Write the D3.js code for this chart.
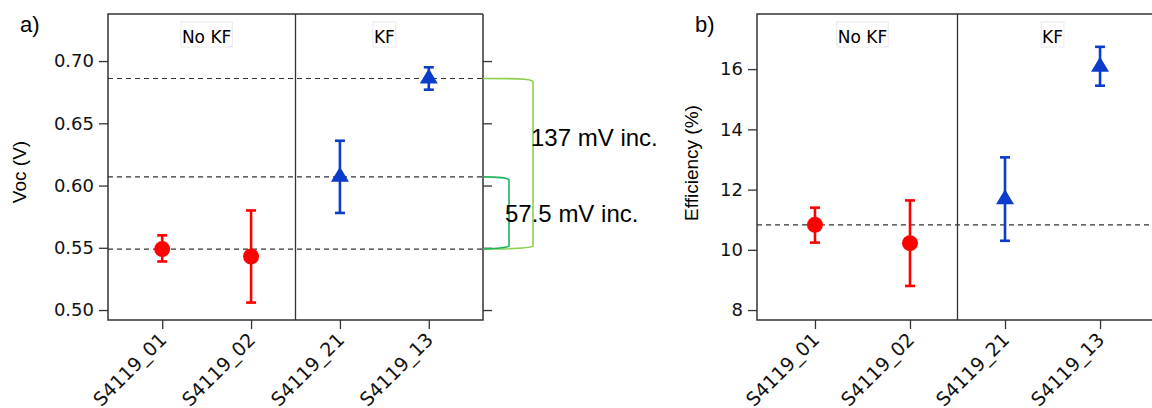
<!DOCTYPE html>
<html>
<head>
<meta charset="utf-8">
<script src="https://cdn.jsdelivr.net/npm/d3@7"></script>
<style>
  body { margin: 0; background: #fff; }
  svg { display: block; }
  .tick text { font-family: "DejaVu Sans", sans-serif; font-size: 18px; fill: #111; }
  .xlab .tick text { font-size: 19px; }
  .domain { display: none; }
  .tick line { stroke: #333; stroke-width: 1.3; }
</style>
</head>
<body>
<svg id="chart" width="1152" height="408"></svg>
<script>
// samples and groups
const samples = ['S4119_01', 'S4119_02', 'S4119_21', 'S4119_13'];
const groupNames = ['No KF', 'KF'];
const sampleGroup = [0, 0, 1, 1];

// Voc (V) with error range
const vocMean = [0.549, 0.543, 0.607, 0.686];
const vocLow = [0.539, 0.506, 0.578, 0.677];
const vocHigh = [0.560, 0.580, 0.636, 0.695];
const vocRefs = [0.686, 0.607, 0.549];
const vocTicks = [0.50, 0.55, 0.60, 0.65, 0.70];

// Efficiency (%) with error range
const effMean = [10.83, 10.22, 11.68, 16.08];
const effLow = [10.24, 8.80, 10.30, 15.45];
const effHigh = [11.40, 11.64, 13.07, 16.74];
const effRefs = [10.83];
const effTicks = [8, 10, 12, 14, 16];

// increase annotations (from, to, label)
const incFrom = [0.686, 0.607];
const incTo = [0.549, 0.549];
const incLabels = ['137 mV inc.', '57.5 mV inc.'];

const groupColors = ['#ff0000', '#0b3ccc'];

const svg = d3.select('#chart');

function drawPanel(opt) {
    let g = svg.append('g');
    let x = d3.scaleLinear().domain([-0.61, 3.61]).range([opt.left, opt.right]);
    let y = d3.scaleLinear().domain(opt.yDomain).range([320, 14]);

    // axes
    g.append('g')
        .attr('transform', 'translate(' + opt.left + ',0)')
        .call(d3.axisLeft(y).tickValues(opt.ticks).tickFormat(opt.fmt).tickSize(9).tickPadding(5));
    if (opt.rightAxis) {
        g.append('g')
            .attr('transform', 'translate(' + opt.right + ',0)')
            .call(d3.axisRight(y).tickValues(opt.ticks).tickFormat('').tickSize(9));
    }
    let xAxis = g.append('g')
        .attr('class', 'xlab')
        .attr('transform', 'translate(0,320)')
        .call(d3.axisBottom(x).tickValues([0, 1, 2, 3]).tickFormat(i => samples[i]).tickSize(9));
    xAxis.selectAll('text')
        .attr('text-anchor', 'end')
        .attr('dy', null)
        .attr('y', 0)
        .attr('transform', 'translate(5,21) rotate(-45)');

    // reference dashed lines
    g.selectAll('.ref').data(opt.refs).join('line')
        .attr('class', 'ref')
        .attr('x1', opt.left).attr('x2', opt.right)
        .attr('y1', d => y(d)).attr('y2', d => y(d))
        .attr('stroke', '#333').attr('stroke-width', 1.2)
        .attr('stroke-dasharray', '5,4');

    // frame and group divider
    g.append('path')
        .attr('d', 'M' + opt.right + ',14 H' + opt.left + ' V320 H' + opt.right + (opt.rightAxis ? ' V14' : ''))
        .attr('fill', 'none').attr('stroke', '#333').attr('stroke-width', 1.5);
    g.append('line')
        .attr('x1', x(1.5)).attr('x2', x(1.5)).attr('y1', 14).attr('y2', 320)
        .attr('stroke', '#333').attr('stroke-width', 1.3);

    // group headers
    let centers = [x(0.5), x(2.5)];
    groupNames.forEach(function(name, i) {
        let t = g.append('text')
            .attr('x', centers[i]).attr('y', 43)
            .attr('text-anchor', 'middle')
            .style('font-family', '"DejaVu Sans", sans-serif')
            .style('font-size', '17px')
            .text(name);
        let bb = t.node().getBBox();
        g.insert('rect', () => t.node())
            .attr('x', bb.x - 1).attr('y', 22).attr('width', bb.width + 2).attr('height', 25)
            .attr('fill', '#fff').attr('stroke', '#e4e4e4').attr('stroke-width', 0.8);
    });

    // error bars
    let idx = [0, 1, 2, 3];
    idx.forEach(function(i) {
        let col = groupColors[sampleGroup[i]];
        let cx = x(i);
        let eb = g.append('g').attr('stroke', col).attr('stroke-width', 2.6).attr('fill', 'none');
        eb.append('line').attr('x1', cx).attr('x2', cx).attr('y1', y(opt.low[i])).attr('y2', y(opt.high[i]));
        eb.append('line').attr('x1', cx - 5).attr('x2', cx + 5).attr('y1', y(opt.low[i])).attr('y2', y(opt.low[i]));
        eb.append('line').attr('x1', cx - 5).attr('x2', cx + 5).attr('y1', y(opt.high[i])).attr('y2', y(opt.high[i]));
        let cy = y(opt.mean[i]);
        if (sampleGroup[i] == 0) {
            g.append('circle').attr('cx', cx).attr('cy', cy).attr('r', 8).attr('fill', col);
        } else {
            g.append('path')
                .attr('d', 'M' + cx + ',' + (cy - 10) + ' L' + (cx + 9) + ',' + (cy + 5) + ' L' + (cx - 9) + ',' + (cy + 5) + 'Z')
                .attr('fill', col);
        }
    });

    // panel letter and y title
    g.append('text')
        .attr('x', opt.letterX).attr('y', 32)
        .style('font-family', '"Liberation Sans", Arial, sans-serif')
        .style('font-size', '22px')
        .text(opt.letter);
    g.append('text')
        .attr('transform', 'translate(' + opt.titleX + ',' + opt.titleY + ') rotate(-90)')
        .attr('text-anchor', 'middle')
        .style('font-family', '"Liberation Sans", Arial, sans-serif')
        .style('font-size', opt.titleSize)
        .text(opt.title);
    return { x: x, y: y };
}

let pa = drawPanel({
    left: 108, right: 483, yDomain: [0.492, 0.7378], ticks: vocTicks, fmt: d3.format('.2f'),
    rightAxis: true, refs: vocRefs, mean: vocMean, low: vocLow, high: vocHigh,
    letter: 'a)', letterX: 20, title: 'Voc (V)', titleX: 26, titleY: 172, titleSize: '19px'
});
drawPanel({
    left: 757, right: 1158, yDomain: [7.67, 17.83], ticks: effTicks, fmt: d3.format('d'),
    rightAxis: false, refs: effRefs, mean: effMean, low: effLow, high: effHigh,
    letter: 'b)', letterX: 695, title: 'Efficiency (%)', titleX: 698, titleY: 163, titleSize: '19px'
});

// increase brackets on panel a
const bracketX = [533, 509];
const bracketColors = ['#8dd04f', '#1fb45a'];
const labelPos = [[531, 146], [505, 222]];
incFrom.forEach(function(v, i) {
    let y0 = pa.y(v), y1 = pa.y(incTo[i]), xr = bracketX[i];
    svg.append('path')
        .attr('d', 'M483,' + y0 + ' C' + (xr - 20) + ',' + y0 + ' ' + (xr - 2) + ',' + y0 + ' ' + xr + ',' + (y0 + 3) +
            ' L' + xr + ',' + (y1 - 3) + ' C' + (xr - 2) + ',' + (y1 - 1) + ' ' + (xr - 20) + ',' + y1 + ' 483,' + y1)
        .attr('fill', 'none').attr('stroke', bracketColors[i]).attr('stroke-width', 1.6);
});
incLabels.forEach(function(lab, i) {
    svg.append('text')
        .attr('x', labelPos[i][0]).attr('y', labelPos[i][1])
        .style('font-family', '"Liberation Sans", Arial, sans-serif')
        .style('font-size', '24px')
        .text(lab);
});
</script>
</body>
</html>
